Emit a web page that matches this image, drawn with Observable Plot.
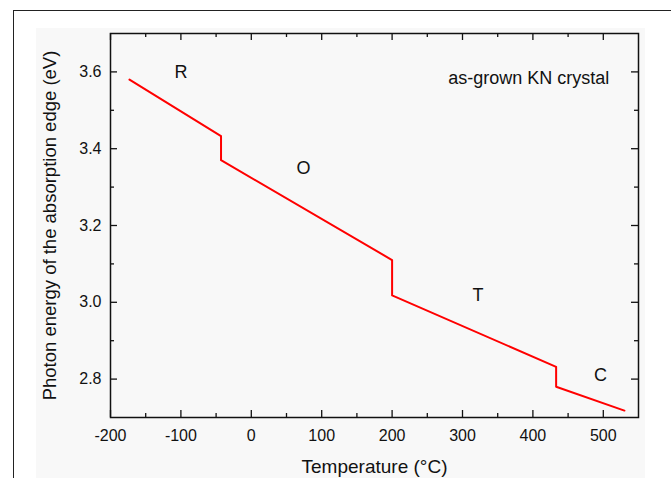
<!DOCTYPE html>
<html>
<head>
<meta charset="utf-8">
<script src="https://cdn.jsdelivr.net/npm/d3@7"></script>
<script src="https://cdn.jsdelivr.net/npm/@observablehq/plot@0.6"></script>
<style>
  html, body { margin: 0; padding: 0; background: #fff; overflow: hidden; }
  #wrap { position: relative; width: 671px; height: 478px; }
  #bg { position: absolute; left: 36px; top: 28px; width: 609px; height: 460px; background: #f8f8f8; }
  #outer { position: absolute; left: 13px; top: 10px; width: 700px; height: 520px; border: 1.5px solid #222; box-sizing: border-box; }
  #chart { position: absolute; left: 0; top: 0; }
  svg { background: transparent !important; }
</style>
</head>
<body>
<div id="wrap"><div id="bg"></div><div id="outer"></div><div id="chart"></div></div>
<script>
// Absorption edge vs temperature (vertices of the red polyline)
const temperature = [-173, -43, -43, 200, 200, 433, 433, 530];
const energy      = [3.58, 3.433, 3.37, 3.11, 3.018, 2.832, 2.78, 2.718];

// Phase labels
const phaseNames = ["R", "O", "T", "C"];
const phaseX     = [-100, 74, 322, 496];
const phaseY     = [3.60, 3.35, 3.018, 2.81];

const noteText = "as-grown KN crystal";
const noteX = 394, noteY = 3.584;

const xMajor = [-200, -100, 0, 100, 200, 300, 400, 500];
const xMinor = [-150, -50, 50, 150, 250, 350, 450];
const yMajor = [2.8, 3.0, 3.2, 3.4, 3.6];
const yMinor = [2.9, 3.1, 3.3, 3.5];

const xTitle = "Temperature (°C)";
const yTitle = "Photon energy of the absorption edge (eV)";

const line = temperature.map((t, i) => ({t, e: energy[i]}));
const phases = phaseNames.map((n, i) => ({n, x: phaseX[i], y: phaseY[i]}));

const W = 671, H = 478;
const mL = 110, mR = 33, mT = 33, mB = 61;
const ph = H - mT - mB, pw = W - mL - mR;
const MAJ = 7, MIN = 4;

const chart = Plot.plot({
  width: W, height: H,
  marginLeft: mL, marginRight: mR, marginTop: mT, marginBottom: mB,
  style: {fontFamily: "Liberation Sans, Arial, sans-serif", background: "transparent", color: "#111"},
  x: {domain: [-200, 550]},
  y: {domain: [2.7, 3.7]},
  marks: [
    Plot.frame({stroke: "#111", strokeWidth: 1.5}),
    // inward ticks: bottom/top
    Plot.tickX(xMajor, {x: d => d, insetTop: ph - MAJ, stroke: "#111", strokeWidth: 1.3}),
    Plot.tickX(xMinor, {x: d => d, insetTop: ph - MIN, stroke: "#111", strokeWidth: 1.3}),
    Plot.tickX(xMajor, {x: d => d, insetBottom: ph - MAJ, stroke: "#111", strokeWidth: 1.3}),
    Plot.tickX(xMinor, {x: d => d, insetBottom: ph - MIN, stroke: "#111", strokeWidth: 1.3}),
    // inward ticks: left/right
    Plot.tickY(yMajor, {y: d => d, insetRight: pw - MAJ, stroke: "#111", strokeWidth: 1.3}),
    Plot.tickY(yMinor, {y: d => d, insetRight: pw - MIN, stroke: "#111", strokeWidth: 1.3}),
    Plot.tickY(yMajor, {y: d => d, insetLeft: pw - MAJ, stroke: "#111", strokeWidth: 1.3}),
    Plot.tickY(yMinor, {y: d => d, insetLeft: pw - MIN, stroke: "#111", strokeWidth: 1.3}),
    Plot.axisX({ticks: xMajor, tickSize: 0, tickPadding: 12, fontSize: 16, label: null, tickFormat: d => String(d).replace("−", "-")}),
    Plot.axisY({ticks: yMajor, tickSize: 0, tickPadding: 9, fontSize: 16, label: null, tickFormat: d3.format(".1f")}),
    Plot.text([xTitle], {frameAnchor: "bottom", dy: 55, fontSize: 19, fill: "#111"}),
    Plot.text([yTitle], {frameAnchor: "left", textAnchor: "middle", dx: -60, rotate: -90, fontSize: 18.5, fill: "#111"}),
    Plot.line(line, {x: "t", y: "e", stroke: "#ff0000", strokeWidth: 2}),
    Plot.text(phases, {x: "x", y: "y", text: "n", fontSize: 18, fill: "#111"}),
    Plot.text([noteText], {x: () => noteX, y: () => noteY, fontSize: 18, fill: "#111"})
  ]
});
document.getElementById("chart").appendChild(chart);
</script>
</body>
</html>
